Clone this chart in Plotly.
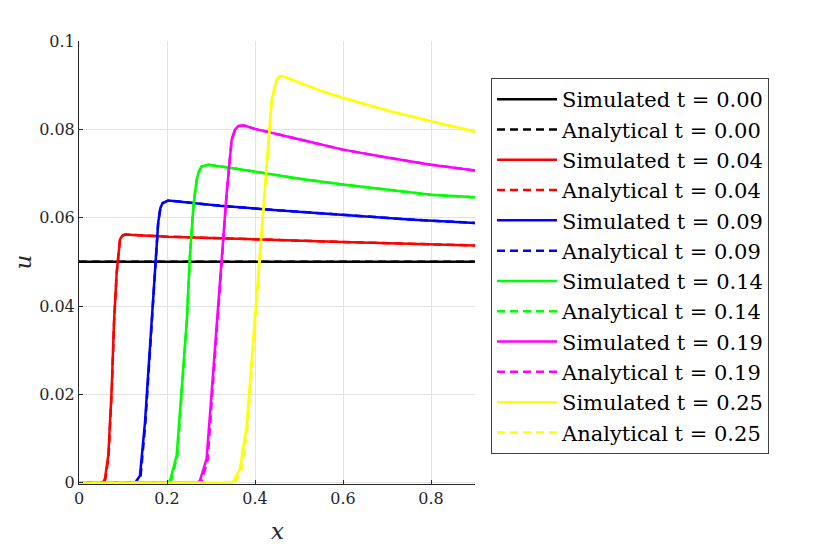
import plotly.graph_objects as go

# ---- data ----
times = ["0.00", "0.04", "0.09", "0.14", "0.19", "0.25"]
colors = ["#000000", "#ff0000", "#0000ff", "#00ff00", "#ff00ff", "#ffff00"]

sim_x_000 = [0.0, 0.9]
sim_u_000 = [0.05, 0.05]
ana_x_000 = [0.0, 0.9]
ana_u_000 = [0.05, 0.05]

sim_x_004 = [0.0, 0.0545, 0.059, 0.0666, 0.0743, 0.0795, 0.0857, 0.0932, 0.0985, 0.1045, 0.2, 0.32, 0.45, 0.6, 0.75, 0.9]
sim_u_004 = [0.0, 0.0, 0.0009, 0.0062, 0.0212, 0.0363, 0.0476, 0.0551, 0.0559, 0.0562, 0.0557, 0.0553, 0.0549, 0.0545, 0.0541, 0.0537]
ana_x_004 = [0.0, 0.0555, 0.060, 0.0672, 0.0746, 0.0797, 0.0858, 0.0932, 0.0985, 0.1045, 0.2, 0.32, 0.45, 0.6, 0.75, 0.9]
ana_u_004 = [0.0, 0.0, 0.0008, 0.0060, 0.0210, 0.0362, 0.0476, 0.0551, 0.0559, 0.0562, 0.0557, 0.0553, 0.0549, 0.0545, 0.0541, 0.0537]

sim_x_009 = [0.0, 0.128, 0.131, 0.1386, 0.15, 0.1576, 0.165, 0.1727, 0.180, 0.185, 0.190, 0.203, 0.252, 0.32, 0.45, 0.6, 0.75, 0.9]
sim_u_009 = [0.0, 0.0, 0.0005, 0.0016, 0.0137, 0.025, 0.0363, 0.0476, 0.0589, 0.0622, 0.0633, 0.0639, 0.0634, 0.0627, 0.0617, 0.0607, 0.0596, 0.0588]
ana_x_009 = [0.0, 0.130, 0.133, 0.1400, 0.1508, 0.1580, 0.1652, 0.1727, 0.180, 0.185, 0.190, 0.203, 0.252, 0.32, 0.45, 0.6, 0.75, 0.9]
ana_u_009 = [0.0, 0.0, 0.0004, 0.0015, 0.0135, 0.0248, 0.0362, 0.0476, 0.0589, 0.0622, 0.0633, 0.0639, 0.0634, 0.0627, 0.0617, 0.0607, 0.0596, 0.0588]

sim_x_014 = [0.0, 0.203, 0.207, 0.222, 0.2333, 0.2447, 0.252, 0.26, 0.2674, 0.273, 0.279, 0.294, 0.35, 0.4, 0.502, 0.6, 0.7, 0.8, 0.9]
sim_u_014 = [0.0, 0.0, 0.0005, 0.0062, 0.0212, 0.0363, 0.0513, 0.0626, 0.0686, 0.0706, 0.0716, 0.072, 0.0712, 0.0704, 0.0688, 0.0675, 0.0663, 0.0652, 0.0646]
ana_x_014 = [0.0, 0.205, 0.209, 0.2235, 0.2340, 0.2450, 0.2522, 0.26, 0.2674, 0.273, 0.279, 0.294, 0.35, 0.4, 0.502, 0.6, 0.7, 0.8, 0.9]
ana_u_014 = [0.0, 0.0, 0.0004, 0.0060, 0.0210, 0.0362, 0.0513, 0.0626, 0.0686, 0.0706, 0.0716, 0.072, 0.0712, 0.0704, 0.0688, 0.0675, 0.0663, 0.0652, 0.0646]

sim_x_019 = [0.0, 0.27, 0.275, 0.29, 0.3015, 0.313, 0.324, 0.3356, 0.347, 0.355, 0.362, 0.3735, 0.40, 0.45, 0.502, 0.6, 0.7, 0.8, 0.9]
sim_u_019 = [0.0, 0.0, 0.0005, 0.0054, 0.0205, 0.0355, 0.0506, 0.0656, 0.0777, 0.0800, 0.0807, 0.0809, 0.0801, 0.0790, 0.0777, 0.0754, 0.0736, 0.072, 0.0707]
ana_x_019 = [0.0, 0.274, 0.279, 0.2925, 0.3030, 0.3140, 0.3245, 0.3358, 0.347, 0.355, 0.362, 0.3735, 0.40, 0.45, 0.502, 0.6, 0.7, 0.8, 0.9]
ana_u_019 = [0.0, 0.0, 0.0004, 0.0052, 0.0203, 0.0354, 0.0506, 0.0656, 0.0777, 0.0800, 0.0807, 0.0809, 0.0801, 0.0790, 0.0777, 0.0754, 0.0736, 0.072, 0.0707]

sim_x_025 = [0.0, 0.345, 0.351, 0.366, 0.381, 0.3925, 0.404, 0.415, 0.4266, 0.438, 0.449, 0.455, 0.4607, 0.48, 0.502, 0.55, 0.6008, 0.7, 0.8016, 0.9]
sim_u_025 = [0.0, 0.0, 0.0003, 0.0032, 0.0129, 0.028, 0.043, 0.058, 0.0731, 0.0867, 0.0912, 0.0919, 0.0921, 0.0914, 0.0905, 0.0887, 0.0871, 0.0843, 0.0818, 0.0795]
ana_x_025 = [0.0, 0.350, 0.356, 0.3690, 0.3830, 0.3940, 0.4050, 0.4158, 0.4270, 0.438, 0.449, 0.455, 0.4607, 0.48, 0.502, 0.55, 0.6008, 0.7, 0.8016, 0.9]
ana_u_025 = [0.0, 0.0, 0.0003, 0.0030, 0.0127, 0.0278, 0.0430, 0.0580, 0.0731, 0.0867, 0.0912, 0.0919, 0.0921, 0.0914, 0.0905, 0.0887, 0.0871, 0.0843, 0.0818, 0.0795]

x_ticks = [0, 0.2, 0.4, 0.6, 0.8]
x_tick_labels = ["0", "0.2", "0.4", "0.6", "0.8"]
y_ticks = [0, 0.02, 0.04, 0.06, 0.08, 0.1]
y_tick_labels = ["0", "0.02", "0.04", "0.06", "0.08", "0.1"]
x_title = "x"
y_title = "u"

series = [
    (sim_x_000, sim_u_000, ana_x_000, ana_u_000),
    (sim_x_004, sim_u_004, ana_x_004, ana_u_004),
    (sim_x_009, sim_u_009, ana_x_009, ana_u_009),
    (sim_x_014, sim_u_014, ana_x_014, ana_u_014),
    (sim_x_019, sim_u_019, ana_x_019, ana_u_019),
    (sim_x_025, sim_u_025, ana_x_025, ana_u_025),
]

FONT = "DejaVu Serif"

fig = go.Figure()
for t, c, (sx, su, ax, au) in zip(times, colors, series):
    fig.add_trace(go.Scatter(x=sx, y=su, mode="lines",
                             name=f"Simulated t = {t}",
                             line=dict(color=c, width=2.5)))
    fig.add_trace(go.Scatter(x=ax, y=au, mode="lines",
                             name=f"Analytical t = {t}",
                             line=dict(color=c, width=2.5, dash="8px,5px")))

axis_common = dict(
    showline=True, linecolor="#262626", linewidth=1,
    ticks="inside", ticklen=4, tickcolor="#262626",
    showgrid=True, gridcolor="#e3e3e3", gridwidth=1,
    zeroline=False, mirror=False, automargin=False,
    tickfont=dict(family=FONT, size=16, color="#262626"),
)

# page body adds an 8px offset, so the figure is 8px smaller than the window
fig.update_layout(
    template="none",
    width=829, height=539,
    margin=dict(l=71, r=362, t=33, b=63),
    paper_bgcolor="white", plot_bgcolor="white",
    xaxis=dict(range=[0, 0.9], tickvals=x_ticks, ticktext=x_tick_labels, **axis_common),
    yaxis=dict(range=[-0.0003, 0.1], tickvals=y_ticks, ticktext=y_tick_labels, **axis_common),
    legend=dict(x=1.0404, y=0.9165, xanchor="left", yanchor="top",
                bgcolor="white", bordercolor="#404040", borderwidth=1,
                font=dict(family=FONT, size=21, color="#000000"),
                itemwidth=60, tracegroupgap=0),
    showlegend=True,
    annotations=[
        dict(text=f"<i>{x_title}</i>", xref="paper", yref="paper", x=0.5, y=0,
             xanchor="center", yanchor="middle", yshift=-47, showarrow=False,
             font=dict(family=FONT, size=23, color="#262626")),
        dict(text=f"<i>{y_title}</i>", xref="paper", yref="paper", x=0, y=0.5,
             xanchor="center", yanchor="middle", xshift=-57, textangle=-90, showarrow=False,
             font=dict(family=FONT, size=23, color="#262626")),
    ],
)

fig.write_html("out.html")
